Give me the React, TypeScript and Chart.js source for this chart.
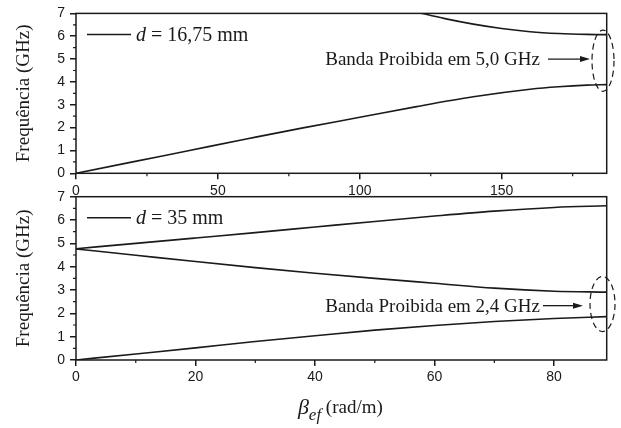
import React, { useEffect, useRef } from 'react';
import { Chart, registerables } from 'chart.js';

Chart.register(...registerables);

// ---------- data ----------
const topBeta = [0, 20, 40, 60, 80, 100, 120, 140, 160, 170, 180, 187];
const topLower = [0, 0.5, 1.0, 1.5, 1.99, 2.45, 2.92, 3.35, 3.68, 3.79, 3.86, 3.88];
const topUpperBeta = [120, 130, 140, 150, 160, 170, 180, 187];
const topUpper = [7.06, 6.77, 6.53, 6.34, 6.2, 6.12, 6.08, 6.07];

const botBeta = [0, 10, 20, 30, 40, 50, 60, 70, 80, 88.8];
const botLower = [0, 0.26, 0.52, 0.79, 1.04, 1.28, 1.48, 1.65, 1.78, 1.86];
const botMiddle = [4.76, 4.49, 4.22, 3.96, 3.72, 3.5, 3.29, 3.08, 2.95, 2.91];
const botUpper = [4.77, 5.0, 5.23, 5.46, 5.7, 5.94, 6.17, 6.38, 6.54, 6.61];

const topXTicks = [0, 50, 100, 150];
const topXMinor = [25, 75, 125, 175];
const botXTicks = [0, 20, 40, 60, 80];
const botXMinor = [10, 30, 50, 70];
const yTicks = [0, 1, 2, 3, 4, 5, 6, 7];
const yMinor = [0.5, 1.5, 2.5, 3.5, 4.5, 5.5, 6.5];

const yTitle = 'Frequência (GHz)';
const topLegend = ' = 16,75 mm';
const botLegend = ' = 35 mm';
const topNote = 'Banda Proibida em 5,0 GHz';
const botNote = 'Banda Proibida em 2,4 GHz';
const topBand = 5.0;
const botBand = 2.4;

const INK = '#1a1a1a';
const SANS = '"Liberation Sans", Arial, sans-serif';
const SERIF = '"Liberation Serif", "Times New Roman", serif';

type Cfg = {
  xMax: number;
  xTicks: number[];
  xMinor: number[];
  xAxisH: number;
  padTop: number;
  tickPad: number;
  legend: string;
  note: string;
  band: number;
  noteEndPx: number;
  arrowStartPx: number;
  arrowEndPx: number;
  noteY: number;
  ellCxPx: number;
  ellRx: number;
  ellRy: number;
  ellCy: number;
  xTitle: boolean;
  series: { xs: number[]; ys: number[] }[];
};

function makeDecor(cfg: Cfg) {
  return {
    id: 'decor',
    afterDraw(chart: any) {
      const { ctx, chartArea: a, scales } = chart;
      const xs = scales.x;
      const ys = scales.y;
      ctx.save();
      ctx.strokeStyle = INK;
      ctx.fillStyle = INK;
      // frame
      ctx.lineWidth = 1.5;
      ctx.strokeRect(a.left, a.top, a.right - a.left, a.bottom - a.top);
      // minor ticks
      ctx.lineWidth = 1.2;
      ctx.beginPath();
      cfg.xMinor.forEach((v) => {
        const px = xs.getPixelForValue(v);
        ctx.moveTo(px, a.bottom);
        ctx.lineTo(px, a.bottom + 3);
      });
      yMinor.forEach((v) => {
        const py = ys.getPixelForValue(v);
        ctx.moveTo(a.left, py);
        ctx.lineTo(a.left - 3, py);
      });
      ctx.stroke();
      // legend
      const ly = a.top + 21;
      ctx.lineWidth = 1.5;
      ctx.beginPath();
      ctx.moveTo(a.left + 11, ly);
      ctx.lineTo(a.left + 55, ly);
      ctx.stroke();
      ctx.textBaseline = 'middle';
      ctx.textAlign = 'left';
      let tx = a.left + 60;
      ctx.font = `italic 20px ${SERIF}`;
      ctx.fillText('d', tx, ly + 1);
      tx += ctx.measureText('d').width;
      ctx.font = `20px ${SERIF}`;
      ctx.fillText(cfg.legend, tx, ly + 1);
      // note text + arrow
      const ny = ys.getPixelForValue(cfg.noteY);
      ctx.font = `19px ${SERIF}`;
      ctx.textAlign = 'right';
      ctx.fillText(cfg.note, cfg.noteEndPx, ny + 1);
      ctx.lineWidth = 1.3;
      ctx.beginPath();
      ctx.moveTo(cfg.arrowStartPx, ny);
      ctx.lineTo(cfg.arrowEndPx - 8, ny);
      ctx.stroke();
      ctx.beginPath();
      ctx.moveTo(cfg.arrowEndPx, ny);
      ctx.lineTo(cfg.arrowEndPx - 10, ny - 3);
      ctx.lineTo(cfg.arrowEndPx - 10, ny + 3);
      ctx.closePath();
      ctx.fill();
      // dashed ellipse
      const ecy = ys.getPixelForValue(cfg.ellCy);
      const ry = Math.abs(ys.getPixelForValue(cfg.ellCy + cfg.ellRy) - ecy);
      ctx.setLineDash([6, 4]);
      ctx.lineWidth = 1.2;
      ctx.beginPath();
      ctx.ellipse(cfg.ellCxPx, ecy, cfg.ellRx, ry, 0, 0, Math.PI * 2);
      ctx.stroke();
      ctx.setLineDash([]);
      // x title
      if (cfg.xTitle) {
        const parts = [
          { t: 'β', f: `italic 22px ${SERIF}`, dy: 0 },
          { t: 'ef', f: `italic 17px ${SERIF}`, dy: 6 },
          { t: ' (rad/m)', f: `19px ${SERIF}`, dy: -1 },
        ];
        let total = 0;
        const ws = parts.map((p) => {
          ctx.font = p.f;
          const w = ctx.measureText(p.t).width;
          total += w;
          return w;
        });
        let x0 = (a.left + a.right) / 2 - total / 2 - 1;
        const base = a.bottom + 54;
        ctx.textAlign = 'left';
        ctx.textBaseline = 'alphabetic';
        parts.forEach((p, i) => {
          ctx.font = p.f;
          ctx.fillText(p.t, x0, base + p.dy);
          x0 += ws[i];
        });
      }
      ctx.restore();
    },
  };
}

function buildConfig(cfg: Cfg): any {
  return {
    type: 'scatter',
    data: {
      datasets: cfg.series.map((s) => ({
        data: s.xs.map((x, i) => ({ x, y: s.ys[i] })),
        showLine: true,
        pointRadius: 0,
        borderColor: INK,
        borderWidth: 1.6,
        cubicInterpolationMode: 'monotone',
        fill: false,
      })),
    },
    options: {
      responsive: false,
      animation: false,
      devicePixelRatio: 1,
      layout: { padding: { top: cfg.padTop, right: 14.3, left: 0, bottom: 0 } },
      plugins: { legend: { display: false }, tooltip: { enabled: false } },
      scales: {
        x: {
          type: 'linear',
          min: 0,
          max: cfg.xMax,
          afterBuildTicks: (s: any) => {
            s.ticks = cfg.xTicks.map((v) => ({ value: v }));
          },
          afterFit: (s: any) => {
            s.height = cfg.xAxisH;
          },
          ticks: {
            font: { family: SANS, size: 14 },
            color: INK,
            padding: cfg.tickPad,
            maxRotation: 0,
          },
          grid: { drawOnChartArea: false, drawTicks: true, tickLength: 6, color: INK, lineWidth: 1.5 },
          border: { display: false },
        },
        y: {
          type: 'linear',
          min: 0,
          max: 7,
          afterBuildTicks: (s: any) => {
            s.ticks = yTicks.map((v) => ({ value: v }));
          },
          afterFit: (s: any) => {
            s.width = 76;
          },
          ticks: { font: { family: SANS, size: 14 }, color: INK, padding: 5 },
          grid: { drawOnChartArea: false, drawTicks: true, tickLength: 6, color: INK, lineWidth: 1.5 },
          border: { display: false },
          title: {
            display: true,
            text: yTitle,
            font: { family: SERIF, size: 19 },
            color: INK,
            padding: { top: 13, bottom: 0 },
          },
        },
      },
    },
    plugins: [makeDecor(cfg)],
  };
}

const topCfg: Cfg = {
  xMax: 187,
  xTicks: topXTicks,
  xMinor: topXMinor,
  xAxisH: 31.7,
  padTop: 11,
  tickPad: 3,
  legend: topLegend,
  note: topNote,
  band: topBand,
  noteEndPx: 540,
  arrowStartPx: 548,
  arrowEndPx: 590,
  noteY: topBand,
  ellCxPx: 603,
  ellRx: 11,
  ellRy: 1.34,
  ellCy: 4.93,
  xTitle: false,
  series: [
    { xs: topBeta, ys: topLower },
    { xs: topUpperBeta, ys: topUpper },
  ],
};

const botCfg: Cfg = {
  xMax: 88.8,
  xTicks: botXTicks,
  xMinor: botXMinor,
  xAxisH: 68,
  padTop: 16.7,
  tickPad: 3,
  legend: botLegend,
  note: botNote,
  band: botBand,
  noteEndPx: 540,
  arrowStartPx: 543,
  arrowEndPx: 583,
  noteY: 2.33,
  ellCxPx: 602.5,
  ellRx: 12.5,
  ellRy: 1.18,
  ellCy: botBand,
  xTitle: true,
  series: [
    { xs: botBeta, ys: botLower },
    { xs: botBeta, ys: botMiddle },
    { xs: botBeta, ys: botUpper },
  ],
};

function Panel({ cfg, top, height }: { cfg: Cfg; top: number; height: number }) {
  const ref = useRef<HTMLCanvasElement | null>(null);
  useEffect(() => {
    if (!ref.current) return;
    const chart = new Chart(ref.current, buildConfig(cfg));
    return () => chart.destroy();
  }, [cfg]);
  return (
    <canvas
      ref={ref}
      width={621}
      height={height}
      style={{ position: 'absolute', left: 0, top, width: 621, height }}
    />
  );
}

export default function App() {
  return (
    <div style={{ position: 'absolute', left: 0, top: 0, width: 621, height: 428, background: '#fff' }}>
      <Panel cfg={topCfg} top={0} height={205} />
      <Panel cfg={botCfg} top={180} height={248} />
    </div>
  );
}
